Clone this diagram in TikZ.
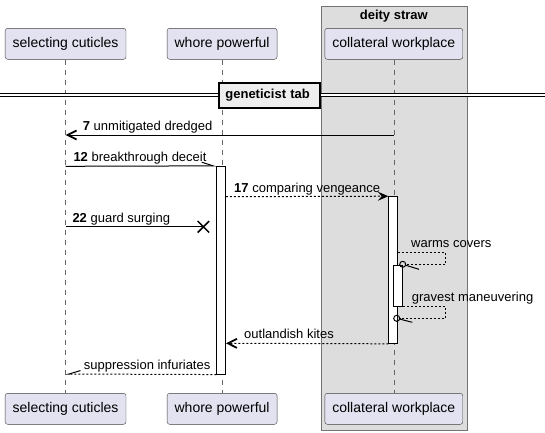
\documentclass[tikz,border=0pt]{standalone}
\usepackage{fontspec}
\setmainfont{Liberation Sans}
\usetikzlibrary{arrows.meta,shapes.misc}
\definecolor{partfill}{HTML}{E2E2F0}
\definecolor{groupfill}{HTML}{DDDDDD}
\definecolor{divfill}{HTML}{EEEEEE}
\tikzset{
  part/.style={draw=black!75,fill=partfill,rounded corners=2.5pt,inner xsep=7.5pt,minimum height=31pt,font=\fontsize{14}{16}\selectfont},
  life/.style={draw=black!60,line width=0.5pt,dash pattern=on 5pt off 5pt},
  actbox/.style={draw=black,fill=white,line width=1pt,minimum width=9pt,inner sep=0pt},
  msg/.style={line width=1pt},
  reply/.style={line width=1pt,dash pattern=on 2pt off 2pt},
  lbl/.style={anchor=base west,inner sep=0pt,font=\fontsize{13}{15}\selectfont},
  openhead/.style={-{Straight Barb[length=9pt,width=9pt,line width=1.8pt]}},
  fullhead/.style={-{Stealth[length=10.5pt,width=9pt,inset=4pt]}},
  halfup/.style={-{Straight Barb[left,length=11.5pt,width=7.4pt,line width=1pt]}},
  halfdown/.style={-{Straight Barb[right,length=11.5pt,width=7pt,line width=1pt]}},
  ring/.style={circle,draw=black,line width=1pt,minimum size=6pt,inner sep=0pt},
}
\begin{document}
\begin{tikzpicture}[x=1pt,y=-1pt]
			\useasboundingbox (0,0) rectangle (545,432);
			
			% Group
			\draw[draw=black!55,fill=groupfill] (320.7,6.3) rectangle (466.8,429.8);
			\node[font=\fontsize{13}{15}\selectfont\bfseries] (grpT) at (393.8,15.7) {deity straw};
			
			% Participants
			\node[part] (selT) at (65.6,43.8) {selecting cuticles};
			\node[part] (whoT) at (222.1,43.8) {whore powerful};
			\node[part] (colT) at (393.8,43.8) {collateral workplace};
			\node[part] (selB) at (65.6,408.8) {selecting cuticles};
			\node[part] (whoB) at (222.1,408.8) {whore powerful};
			\node[part] (colB) at (393.8,408.8) {collateral workplace};
			
			% Lifelines
			\draw[life] (selT.south) -- (selB.north);
			\draw[life] (whoT.south) -- (whoB.north);
			\draw[life] (colT.south) -- (colB.north);
			
			% Divider
			\coordinate (divL) at (0,94.6);
			\coordinate (divR) at (545,94.6);
			\draw[double,double distance=1.8pt,line width=1pt] (divL) -- (divR);
			\node[draw=black,line width=2pt,fill=divfill,minimum height=25pt,text width=89pt,align=left,inner xsep=6pt,font=\fontsize{13}{15}\selectfont\bfseries] (div) at (269.9,95) {geneticist tab};
			
			% Activations
			\node[actbox,minimum height=207.7pt] (actW) at (221.4,270.2) {};
			\node[actbox,minimum height=146.6pt] (actC) at (393.3,270) {};
			\node[actbox,minimum height=41pt] (actN) at (398.3,285.5) {};
			
			% Messages
			\coordinate (m7a) at (393.8,135);
			\coordinate (m7b) at (65.6,135);
			\draw[msg,openhead] (m7a) -- (m7b);
			\node[lbl] (l7) at (82.7,130.5) {\textbf{7} unmitigated dredged};
			
			\coordinate (m12a) at (65.6,166.3);
			\draw[msg,halfup] (m12a) -- (actW.north west);
			\node[lbl] (l12) at (73.3,161.5) {\textbf{12} breakthrough deceit};
			
			\coordinate (m17a) at (225.9,196.7);
			\draw[reply,fullhead] (m17a) -- (actC.north west);
			\node[lbl] (l17) at (234,192.2) {\textbf{17} comparing vengeance};
			
			\node[cross out,draw=black,line width=1.5pt,minimum size=10pt,inner sep=0pt] (lost) at (203.4,226.8) {};
			\coordinate (m22a) at (65.6,226.8);
			\draw[msg] (m22a) -- (lost.center);
			\node[lbl] (l22) at (72.3,222.3) {\textbf{22} guard surging};
			
			% Self messages
			\coordinate (w1) at (398.3,252.2);
			\coordinate (w2) at (445.7,252.2);
			\coordinate (w3) at (445.7,264.3);
			\node[ring] (wO) at (402.7,264.3) {};
			\coordinate (wB) at (419,269.3);
			\draw[reply] (w1) -- (w2) -- (w3) -- (wO);
			\draw[msg] (wO) -- (wB);
			\node[lbl] (lw) at (411,247.5) {warms covers};
			
			\coordinate (g1) at (403.3,306);
			\coordinate (g2) at (445.7,306);
			\coordinate (g3) at (445.7,318.3);
			\node[ring] (gO) at (396.7,318.3) {};
			\coordinate (gB) at (412.3,322.3);
			\draw[reply] (g1) -- (g2) -- (g3) -- (gO);
			\draw[msg] (gO) -- (gB);
			\node[lbl] (lg) at (411.7,301.3) {gravest maneuvering};
			
			% Replies
			\coordinate (m9b) at (225.9,343.3);
			\draw[reply,openhead] (actC.south west) -- (m9b);
			\node[lbl] (l9) at (244,338.7) {outlandish kites};
			
			\coordinate (m10b) at (65.6,374);
			\draw[reply,halfdown] (actW.south west) -- (m10b);
			\node[lbl] (l10) at (83.7,369.3) {suppression infuriates};
			
		\end{tikzpicture}
\end{document}
